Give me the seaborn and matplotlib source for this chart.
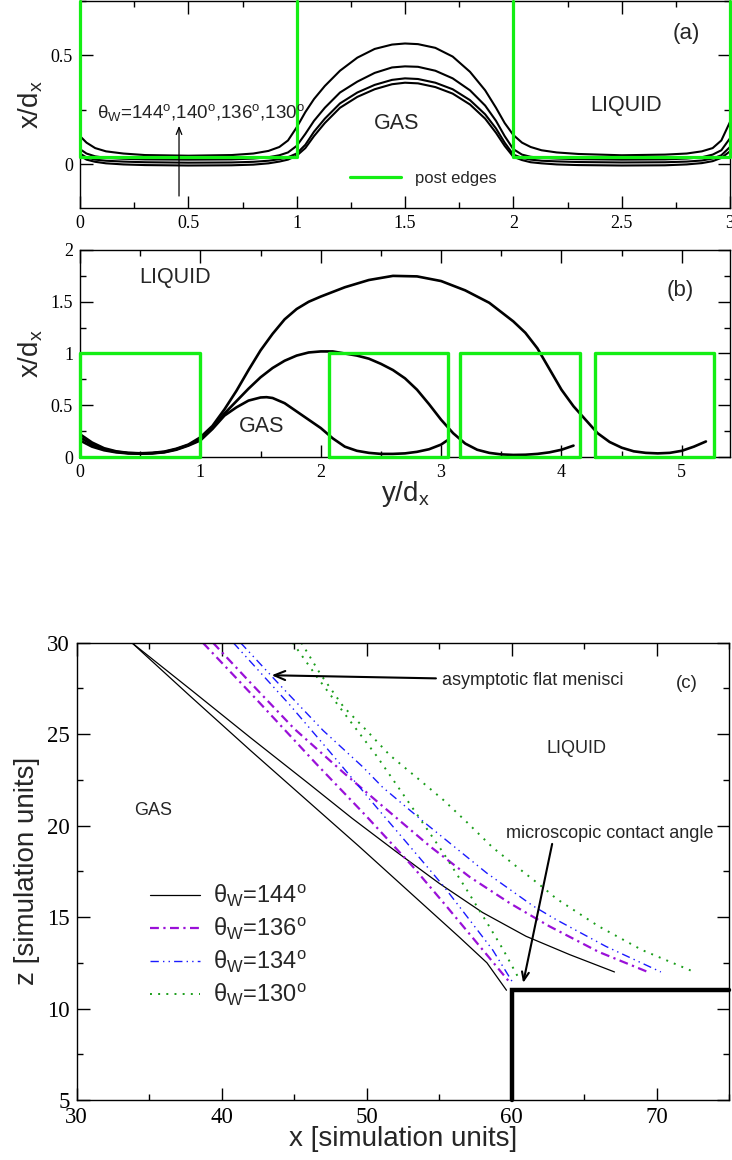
import matplotlib
matplotlib.use('Agg')
import matplotlib.pyplot as plt
import seaborn as sns
from matplotlib.lines import Line2D
from matplotlib.ticker import MultipleLocator

sns.set_style('ticks')
plt.rcParams['font.family'] = ['Liberation Sans', 'DejaVu Sans']
plt.rcParams['mathtext.fontset'] = 'custom'
plt.rcParams['mathtext.rm'] = 'Liberation Sans'
plt.rcParams['mathtext.it'] = 'Liberation Sans:italic'
plt.rcParams['axes.unicode_minus'] = False

GREEN = '#14ee14'
PURPLE = '#9a10d8'
BLUE = '#1a1aff'
DGREEN = '#1a9e1a'
SERIF = 'Liberation Serif'

# ---------------- panel (a) data ----------------
xa = [0, 0.03, 0.07, 0.12, 0.2, 0.3, 0.5, 0.7, 0.8, 0.87, 0.92, 0.96, 1.0, 1.04, 1.08,
      1.13, 1.2, 1.28, 1.36, 1.44, 1.5, 1.56, 1.64, 1.72, 1.8, 1.87, 1.92, 1.96, 2.0,
      2.04, 2.08, 2.13, 2.2, 2.3, 2.5, 2.7, 2.8, 2.87, 2.92, 2.96, 3.0]
a_curve1 = [.13, .10, .075, .06, .05, .043, .04, .043, .05, .062, .08, .11, .17, .24, .30,
            .36, .43, .49, .53, .55, .555, .552, .535, .495, .425, .34, .26, .19, .135,
            .10, .08, .065, .055, .048, .042, .045, .05, .06, .075, .11, .195]
a_curve2 = [.07, .05, .037, .03, .026, .023, .022, .023, .027, .033, .042, .055, .085, .14, .20,
            .26, .33, .38, .42, .445, .45, .448, .43, .395, .34, .27, .20, .13, .07,
            .045, .035, .03, .027, .024, .022, .023, .027, .033, .045, .065, .12]
a_curve3 = [.05, .032, .022, .017, .013, .01, .008, .009, .012, .017, .024, .033, .05, .09, .15,
            .21, .28, .33, .365, .388, .395, .392, .375, .345, .295, .23, .165, .10, .045,
            .03, .022, .017, .014, .011, .009, .01, .013, .018, .027, .042, .08]
a_curve4 = [.04, .022, .012, .005, .0, -.003, -.005, -.004, -.001, .005, .013, .022, .04, .075, .13,
            .19, .26, .31, .345, .368, .375, .372, .355, .325, .275, .21, .145, .085, .035,
            .02, .01, .005, .0, -.003, -.005, -.004, .0, .006, .015, .03, .06]
a_post_x = [[0, 0, 1, 1], [2, 2, 3, 3]]
a_post_y = [[0.75, 0.036, 0.036, 0.75], [0.75, 0.036, 0.036, 0.75]]
a_xticks = [0, 0.5, 1, 1.5, 2, 2.5, 3]
a_xticklabels = ['0', '0.5', '1', '1.5', '2', '2.5', '3']
a_yticks = [0, 0.5]
a_yticklabels = ['0', '0.5']

# ---------------- panel (b) data ----------------
b_small_x = [0, .1, .2, .3, .4, .5, .6, .7, .8, .9, 1.0, 1.1, 1.2, 1.3, 1.4, 1.5, 1.55, 1.6,
             1.7, 1.8, 1.9, 2.0, 2.1, 2.2, 2.3, 2.4, 2.5, 2.6, 2.7, 2.8, 2.9, 3.0, 3.05]
b_small_y = [.16, .10, .065, .045, .035, .032, .035, .045, .07, .11, .16, .27, .40, .48, .545,
             .575, .578, .57, .52, .44, .36, .28, .18, .10, .06, .04, .03, .03, .035, .05,
             .075, .12, .16]
b_mid_x = [0, .1, .2, .3, .4, .5, .6, .7, .8, .9, 1.0, 1.1, 1.2, 1.3, 1.4, 1.5, 1.6, 1.7,
           1.8, 1.9, 2.0, 2.1, 2.2, 2.3, 2.4, 2.5, 2.6, 2.7, 2.8, 2.9, 3.0, 3.1, 3.2, 3.3,
           3.4, 3.5, 3.6, 3.7, 3.8, 3.9, 4.0, 4.1]
b_mid_y = [.19, .12, .075, .05, .038, .034, .037, .048, .075, .115, .175, .28, .42, .54, .66,
           .77, .86, .93, .98, 1.01, 1.02, 1.02, 1.0, .98, .95, .9, .84, .76, .65, .51, .36,
           .23, .13, .07, .04, .025, .02, .022, .03, .045, .07, .11]
b_big_x = [0, .1, .2, .3, .4, .5, .6, .7, .8, .9, 1.0, 1.1, 1.2, 1.3, 1.4, 1.5, 1.6, 1.7,
           1.8, 1.9, 2.0, 2.2, 2.4, 2.6, 2.8, 3.0, 3.2, 3.4, 3.6, 3.7, 3.8, 3.9, 4.0, 4.1,
           4.2, 4.3, 4.4, 4.5, 4.6, 4.7, 4.8, 4.9, 5.0, 5.1, 5.2]
b_big_y = [.22, .14, .085, .055, .04, .036, .04, .052, .08, .12, .19, .30, .46, .64, .84,
           1.03, 1.19, 1.33, 1.43, 1.50, 1.55, 1.64, 1.71, 1.75, 1.745, 1.70, 1.61, 1.49,
           1.31, 1.20, 1.05, .85, .65, .49, .36, .23, .145, .09, .055, .04, .035, .04, .06,
           .10, .15]
b_post_left = [0, 2.07, 3.16, 4.28]
b_post_right = [1.0, 3.06, 4.15, 5.27]
b_post_height = 1.0
b_xticks = [0, 1, 2, 3, 4, 5]
b_xticklabels = ['0', '1', '2', '3', '4', '5']
b_yticks = [0, 0.5, 1, 1.5, 2]
b_yticklabels = ['0', '0.5', '1', '1.5', '2']

# ---------------- panel (c) data ----------------
c144_steep_x = [33.8, 37.8, 42.0, 46.0, 49.5, 51.8, 54.1, 56.4, 58.3, 59.65]
c144_steep_z = [30.0, 27.1, 24.1, 21.3, 18.85, 17.2, 15.55, 13.9, 12.5, 11.0]
c144_flat_x = [33.8, 38.0, 42.0, 46.0, 49.0, 52.0, 55.0, 58.0, 61.0, 64.0, 67.1]
c144_flat_z = [30.0, 27.35, 24.8, 22.3, 20.4, 18.6, 16.85, 15.25, 13.95, 12.95, 12.0]
c136_steep_x = [38.7, 42.4, 46.5, 50.0, 53.2, 55.5, 57.6, 59.8]
c136_steep_z = [30.0, 26.9, 23.4, 20.5, 17.75, 15.6, 13.6, 11.5]
c136_flat_x = [39.4, 42.0, 45.0, 48.4, 50.9, 54.4, 57.1, 59.9, 62.6, 66.0, 69.4]
c136_flat_z = [30.0, 27.8, 25.3, 22.9, 21.2, 18.85, 17.2, 15.75, 14.5, 13.1, 12.0]
c134_steep_x = [40.8, 44.7, 47.5, 50.9, 53.0, 55.3, 57.1, 58.7, 60.1]
c134_steep_z = [30.0, 26.6, 24.0, 20.8, 18.85, 16.7, 14.85, 13.2, 11.4]
c134_flat_x = [41.3, 44.0, 47.0, 49.75, 51.1, 54.1, 58.3, 61.5, 63.1, 66.5, 70.3]
c134_flat_z = [30.0, 27.7, 25.2, 23.2, 22.1, 20.1, 17.4, 15.6, 14.85, 13.4, 12.0]
c130_steep_x = [44.9, 46.6, 48.4, 50.7, 53.4, 55.3, 56.9, 58.3, 59.4, 60.6]
c130_steep_z = [30.0, 28.1, 26.2, 23.8, 20.7, 18.5, 16.5, 14.7, 13.25, 11.5]
c130_flat_x = [45.5, 46.8, 48.4, 50.0, 51.6, 53.5, 55.3, 56.9, 58.7, 60.6, 62.2, 63.1,
               66.0, 69.0, 72.6]
c130_flat_z = [30.0, 28.3, 26.5, 25.2, 23.85, 22.6, 21.4, 20.2, 18.8, 17.6, 16.6, 16.0,
               14.5, 13.2, 12.0]
c_post_x = [60, 60, 75]
c_post_z = [5, 11, 11]
c_labels = ['θ$_\\mathregular{W}$=144$^\\mathregular{o}$',
            'θ$_\\mathregular{W}$=136$^\\mathregular{o}$',
            'θ$_\\mathregular{W}$=134$^\\mathregular{o}$',
            'θ$_\\mathregular{W}$=130$^\\mathregular{o}$']
c_xticks = [30, 40, 50, 60, 70]
c_xticklabels = ['30', '40', '50', '60', '70']
c_yticks = [5, 10, 15, 20, 25, 30]
c_yticklabels = ['5', '10', '15', '20', '25', '30']


def line(ax, x, y, **kw):
    sns.lineplot(x=x, y=y, ax=ax, sort=False, estimator=None, **kw)
    return ax.get_lines()[-1]


def style_axes(ax, xt, xtl, yt, ytl, xminor, yminor, tsize):
    ax.set_xticks(xt, xtl, fontfamily=SERIF, fontsize=tsize)
    ax.set_yticks(yt, ytl, fontfamily=SERIF, fontsize=tsize)
    ax.xaxis.set_minor_locator(MultipleLocator(xminor))
    ax.yaxis.set_minor_locator(MultipleLocator(yminor))
    ax.tick_params(which='both', direction='in', top=True, right=True, width=1,
                   colors='black')
    ax.tick_params(which='major', length=9, pad=5)
    ax.tick_params(which='minor', length=4.5)
    for s in ax.spines.values():
        s.set_linewidth(1.0)
        s.set_color('black')


fig = plt.figure(figsize=(7.32, 11.6), dpi=100)

# ================= (a) =================
ax_a = fig.add_axes([80 / 732, 1 - 208 / 1160, 650 / 732, 207 / 1160])
for yc in (a_curve1, a_curve2, a_curve3, a_curve4):
    line(ax_a, xa, yc, color='black', linewidth=1.5)
for px, py in zip(a_post_x, a_post_y):
    ax_a.plot(px, py, color=GREEN, linewidth=2.3, clip_on=False, zorder=3)
ax_a.set_xlim(0, 3)
ax_a.set_ylim(-0.2, 0.75)
style_axes(ax_a, a_xticks, a_xticklabels, a_yticks, a_yticklabels, 0.25, 0.25, 13)
ax_a.set_xlabel('')
ax_a.set_ylabel('x/d$_\\mathregular{x}$', fontsize=20)
ax_a.yaxis.set_label_coords(-0.054, 0.5)
ax_a.text(2.8, 0.6, '(a)', fontsize=16, ha='center', va='center')
ax_a.text(2.52, 0.27, 'LIQUID', fontsize=15.5, ha='center', va='center')
ax_a.text(1.46, 0.19, 'GAS', fontsize=15.5, ha='center', va='center')
ax_a.text(0.077, 0.212, 'θ$_\\mathregular{W}$=144$^\\mathregular{o}$,140$^\\mathregular{o}$,'
          '136$^\\mathregular{o}$,130$^\\mathregular{o}$', fontsize=13.5, ha='left',
          va='baseline', color='#222222')
ax_a.annotate('', xy=(0.457, 0.177), xytext=(0.457, -0.145),
              arrowprops=dict(arrowstyle='->,head_length=0.5,head_width=0.2', lw=0.9,
                              color='black', shrinkA=0, shrinkB=0))
ax_a.legend(handles=[Line2D([], [], color=GREEN, linewidth=2.3)], labels=['post edges'],
            loc='center left', bbox_to_anchor=(0.415, 0.144), frameon=False, fontsize=12,
            handlelength=3.05, handletextpad=0.84, borderpad=0, borderaxespad=0)

# ================= (b) =================
ax_b = fig.add_axes([80 / 732, 1 - 457 / 1160, 650 / 732, 207 / 1160])
for xx, yy in ((b_small_x, b_small_y), (b_mid_x, b_mid_y), (b_big_x, b_big_y)):
    line(ax_b, xx, yy, color='black', linewidth=1.9)
for l, r in zip(b_post_left, b_post_right):
    ax_b.plot([l, l, r, r, l], [0, b_post_height, b_post_height, 0, 0], color=GREEN,
              linewidth=2.4, clip_on=False, zorder=3)
ax_b.set_xlim(0, 5.4)
ax_b.set_ylim(0, 2)
style_axes(ax_b, b_xticks, b_xticklabels, b_yticks, b_yticklabels, 0.5, 0.25, 13)
ax_b.set_ylabel('x/d$_\\mathregular{x}$', fontsize=20)
ax_b.yaxis.set_label_coords(-0.054, 0.5)
ax_b.set_xlabel('y/d$_\\mathregular{x}$', fontsize=20)
ax_b.xaxis.set_label_coords(0.5, -0.105)
ax_b.text(0.79, 1.73, 'LIQUID', fontsize=15.5, ha='center', va='center')
ax_b.text(1.51, 0.29, 'GAS', fontsize=15.5, ha='center', va='center')
ax_b.text(4.99, 1.61, '(b)', fontsize=16, ha='center', va='center')

# ================= (c) =================
ax_c = fig.add_axes([76.7 / 732, 1 - 1100 / 1160, 652.3 / 732, 457.3 / 1160])
h144 = line(ax_c, c144_steep_x, c144_steep_z, color='black', linewidth=0.9)
line(ax_c, c144_flat_x, c144_flat_z, color='black', linewidth=0.9)
h136 = line(ax_c, c136_steep_x, c136_steep_z, color=PURPLE, linewidth=1.6)
h136.set_dashes((4, 2, 1, 2))
l2 = line(ax_c, c136_flat_x, c136_flat_z, color=PURPLE, linewidth=1.6)
l2.set_dashes((4, 2, 1, 2))
h134 = line(ax_c, c134_steep_x, c134_steep_z, color=BLUE, linewidth=1.0)
h134.set_dashes((6, 3, 1, 3, 1, 3))
l3 = line(ax_c, c134_flat_x, c134_flat_z, color=BLUE, linewidth=1.0)
l3.set_dashes((6, 3, 1, 3, 1, 3))
h130 = line(ax_c, c130_steep_x, c130_steep_z, color=DGREEN, linewidth=1.4)
h130.set_dashes((1, 3.2))
l4 = line(ax_c, c130_flat_x, c130_flat_z, color=DGREEN, linewidth=1.4)
l4.set_dashes((1, 3.2))
ax_c.plot(c_post_x, c_post_z, color='black', linewidth=3.2, clip_on=False, zorder=4,
          solid_joinstyle='miter')
ax_c.set_xlim(30, 75)
ax_c.set_ylim(5, 30)
style_axes(ax_c, c_xticks, c_xticklabels, c_yticks, c_yticklabels, 5, 2.5, 16.5)
ax_c.set_xlabel('x [simulation units]', fontsize=20)
ax_c.xaxis.set_label_coords(0.5, -0.057)
ax_c.set_ylabel('z [simulation units]', fontsize=20)
ax_c.yaxis.set_label_coords(-0.056, 0.5)
ax_c.text(35.3, 20.85, 'GAS', fontsize=13, ha='center', va='center')
ax_c.text(64.5, 24.2, 'LIQUID', fontsize=13, ha='center', va='center')
ax_c.text(72.1, 27.77, '(c)', fontsize=13.5, ha='center', va='center')
ax_c.annotate('asymptotic flat menisci', xy=(43.45, 28.22), xytext=(55.2, 27.95),
              fontsize=13, ha='left', va='center',
              arrowprops=dict(arrowstyle='->,head_length=0.6,head_width=0.25', lw=1.5,
                              color='black', shrinkA=2, shrinkB=0))
ax_c.text(66.8, 19.57, 'microscopic contact angle', fontsize=13, ha='center', va='center')
ax_c.annotate('', xy=(60.8, 11.4), xytext=(62.8, 19.0),
              arrowprops=dict(arrowstyle='->,head_length=0.6,head_width=0.25', lw=1.5,
                              color='black', shrinkA=0, shrinkB=0))
ax_c.legend(handles=[h144, h136, h134, h130], labels=c_labels, loc='center left',
            bbox_to_anchor=(0.112, 0.338), frameon=False, fontsize=17,
            handlelength=2.12, handletextpad=0.55, labelspacing=0.29, borderpad=0,
            borderaxespad=0)

fig.savefig('out.png', dpi=100)
